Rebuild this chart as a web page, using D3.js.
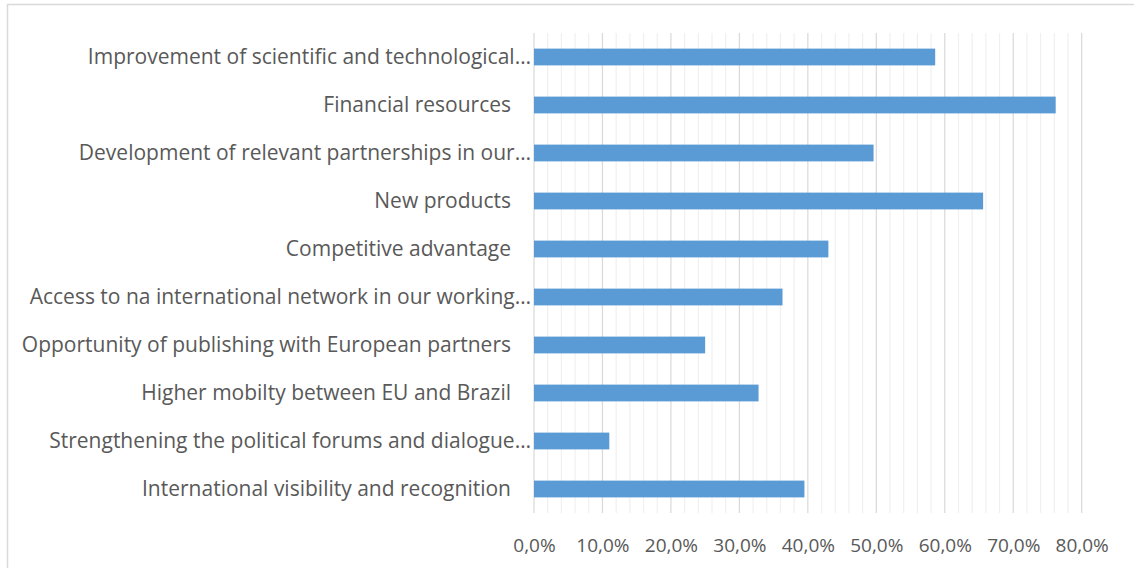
<!DOCTYPE html>
<html>
<head>
<meta charset="utf-8">
<script src="https://cdn.jsdelivr.net/npm/d3@7"></script>
<style>
  body { margin: 0; background: #fff; }
  text { font-family: "Open Sans", sans-serif; fill: #595959; }
</style>
</head>
<body>
<script>
// categories, top to bottom
var categories = [
  "Improvement of scientific and technological\u2026",
  "Financial resources",
  "Development of relevant partnerships in our\u2026",
  "New products",
  "Competitive advantage",
  "Access to na international network in our working\u2026",
  "Opportunity of publishing with European partners",
  "Higher mobilty between EU and Brazil",
  "Strengthening the political forums and dialogue\u2026",
  "International visibility and recognition"
];
var values = [0.586, 0.762, 0.496, 0.656, 0.430, 0.363, 0.250, 0.328, 0.110, 0.395];
var majorTicks = [0, 0.1, 0.2, 0.3, 0.4, 0.5, 0.6, 0.7, 0.8];

var width = 1134, height = 568;
var plotLeft = 534, plotRight = 1081.7, plotTop = 33, plotBottom = 513;

var ptBR = d3.formatLocale({decimal: ",", thousands: ".", grouping: [3], currency: ["", ""]});
var fmt = ptBR.format(".1%");

var svg = d3.select("body").append("svg")
  .attr("width", width)
  .attr("height", height);

// chart border (top + left visible)
svg.append("path")
  .attr("d", "M7.5,568V4.5H1134")
  .attr("fill", "none")
  .attr("stroke", "#d9d9d9")
  .attr("stroke-width", 1.5);

var x = d3.scaleLinear().domain([0, 0.8]).range([plotLeft, plotRight]);
var y = d3.scaleBand().domain(categories).range([plotTop, plotBottom]).paddingInner(0.65).paddingOuter(0.325);

// minor gridlines every 2%
var minor = d3.range(0, 81, 2).filter(function(d){ return d % 10 != 0; })
  .map(function(d){ return d / 100; });
svg.append("g").selectAll("line")
  .data(minor)
  .enter().append("line")
  .attr("x1", function(d){ return x(d); })
  .attr("x2", function(d){ return x(d); })
  .attr("y1", plotTop).attr("y2", plotBottom)
  .attr("stroke", "#f0f0f0")
  .attr("stroke-width", 1.2);

// major gridlines
svg.append("g").selectAll("line")
  .data(majorTicks)
  .enter().append("line")
  .attr("x1", function(d){ return x(d); })
  .attr("x2", function(d){ return x(d); })
  .attr("y1", plotTop).attr("y2", plotBottom)
  .attr("stroke", "#d9d9d9")
  .attr("stroke-width", 1.2);

// bars
svg.append("g").selectAll("rect")
  .data(values)
  .enter().append("rect")
  .attr("x", x(0))
  .attr("y", function(d, i){ return y(categories[i]); })
  .attr("width", function(d){ return x(d) - x(0); })
  .attr("height", y.bandwidth())
  .attr("fill", "#5b9bd5");

// category axis
var yAxis = d3.axisLeft(y).tickSize(0).tickPadding(3);
var gy = svg.append("g")
  .attr("transform", "translate(" + plotLeft + ",0)")
  .call(yAxis);
gy.select(".domain").remove();
gy.selectAll("text")
  .style("font-size", "21px")
  .attr("fill", "#595959")
  .attr("dx", function(d){ return d.slice(-1) == "\u2026" ? 0 : -20; });

// value axis
var xAxis = d3.axisBottom(x).tickValues(majorTicks).tickFormat(fmt).tickSize(0).tickPadding(0);
var gx = svg.append("g")
  .attr("transform", "translate(0," + 538 + ")")
  .call(xAxis);
gx.select(".domain").remove();
gx.selectAll("text")
  .style("font-size", "19px")
  .attr("fill", "#595959");
</script>
</body>
</html>
